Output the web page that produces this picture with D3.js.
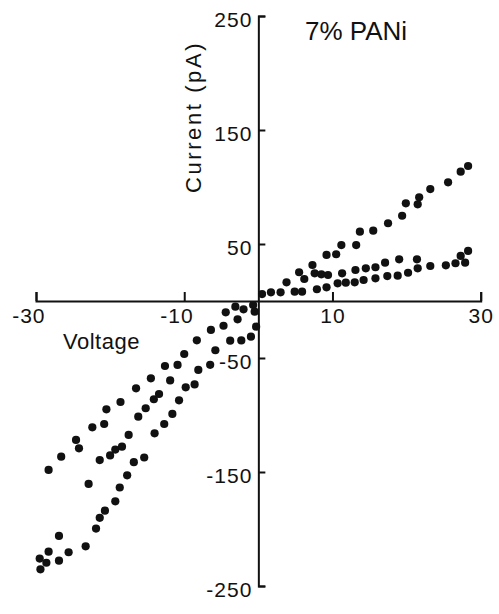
<!DOCTYPE html>
<html>
<head>
<meta charset="utf-8">
<script src="https://cdn.jsdelivr.net/npm/d3@7"></script>
<style>
  body { margin: 0; background: #fff; }
  svg { display: block; }
</style>
</head>
<body>
<div id="chart"></div>
<script>
// voltage (V), current (pA), one array per branch
var posUpper = [[9.2,40.4],[10.5,41.0],[11.2,49.1],[13.2,49.1],[13.7,60.8],[15.5,61.7],[17.5,68.2],
  [19.4,74.8],[19.9,85.7],[21.5,84.8],[21.7,91.0],[23.2,98.2],[25.6,104.1],[27.3,113.4],[28.3,118.4]];
var posLowerOut = [[0.5,6.1],[1.7,7.6],[3.0,7.6],[4.9,8.2],[5.9,8.2],[7.9,10.3],[9.2,12.0],[10.7,15.5],
  [11.8,16.1],[13.0,16.4],[14.2,18.4],[15.8,19.9],[17.4,21.9],[18.8,22.2],[20.2,24.8],[21.5,28.7],
  [23.2,30.7],[25.3,31.3],[26.6,33.1],[27.9,33.6],[27.3,39.5],[28.3,43.9]];
var posLowerBack = [[3.8,16.4],[5.5,25.2],[6.2,19.3],[7.3,31.6],[7.6,24.3],[8.5,23.4],[9.4,22.8],
  [11.3,24.3],[13.1,27.2],[14.5,28.7],[15.8,29.6],[17.1,33.6],[19.0,36.6],[21.4,36.6]];
var negUpper = [[-28.3,-148.2],[-26.6,-136.6],[-24.6,-121.9],[-24.2,-129.2],[-22.4,-110.8],[-20.8,-107.9],
  [-20.5,-95.0],[-18.6,-88.6],[-16.5,-76.6],[-14.5,-67.8],[-12.6,-57.0],[-10.9,-56.1],[-10.0,-46.5],
  [-8.3,-34.5],[-6.4,-25.4],[-4.4,-9.9],[-3.1,-5.0],[-2.0,-7.3],[-0.7,-3.5],[-0.5,-9.4],[-2.8,-16.1],[-4.7,-21.7]];
var negMiddle = [[-22.9,-160.5],[-21.4,-139.5],[-20.0,-135.5],[-19.3,-130.3],[-18.4,-127.8],[-17.5,-117.5],
  [-16.2,-101.5],[-15.2,-94.1],[-14.1,-86.2],[-13.4,-81.6],[-11.9,-69.7],[-8.1,-60.5],[-6.5,-56.0],
  [-5.8,-43.2],[-3.8,-34.8],[-2.3,-34.6],[-1.0,-31.3],[-0.3,-22.5]];
var negLower = [[-29.4,-235.4],[-29.5,-225.9],[-28.6,-229.6],[-28.3,-219.9],[-26.9,-227.8],[-26.9,-206.1],
  [-25.6,-220.4],[-23.3,-215.2],[-21.9,-199.6],[-21.4,-190.2],[-20.7,-183.9],[-19.3,-175.7],[-18.7,-163.6],
  [-17.7,-152.9],[-16.8,-141.4],[-15.4,-137.3],[-14.0,-116.1],[-12.7,-107.9],[-11.6,-99.1],[-10.7,-87.1],
  [-9.8,-75.7],[-8.6,-73.2]];

var xTicks = [-30, -10, 10, 30];
var yTicks = [250, 150, 50, -50, -150, -250];
var title = "7% PANi";

var ink = "#111";
var font = "'Liberation Sans', Arial, sans-serif";

var svg = d3.select("#chart").append("svg")
  .attr("width", 499).attr("height", 614);

var x = d3.scaleLinear().domain([-30, 30]).range([36, 480.7]);
var y = d3.scaleLinear().domain([-250, 250]).range([586, 16]);

// x axis, ticks pointing up, labels below
var gx = svg.append("g")
  .attr("transform", `translate(0,${y(0)})`)
  .call(d3.axisBottom(x).tickValues(xTicks).tickSize(-9).tickSizeOuter(-9).tickPadding(7)
    .tickFormat(d3.format("d")));

gx.selectAll("text")
  .attr("text-anchor", (d) => (d < 0 ? "end" : "middle"))
  .attr("x", (d) => (d < 0 ? 9 : 0))
  .text((d) => (d < 0 ? "-" + Math.abs(d) : d));

// y axis, ticks pointing right, labels left
var gy = svg.append("g")
  .attr("transform", `translate(${x(0)},0)`)
  .call(d3.axisLeft(y).tickValues(yTicks).tickSize(-7).tickSizeOuter(-7).tickPadding(6)
    .tickFormat(d3.format("d")));

gy.selectAll("text")
  .attr("dy", "0.5em")
  .text((d) => (d < 0 ? "-" + Math.abs(d) : d));

svg.selectAll(".domain, .tick line").attr("stroke", ink).attr("stroke-width", 2);
svg.selectAll(".tick text")
  .attr("fill", ink)
  .style("font-family", font)
  .style("font-size", "21px")
  .style("letter-spacing", "1px");

// points
var all = [].concat(posUpper, posLowerOut, posLowerBack, negUpper, negMiddle, negLower);
svg.append("g")
  .selectAll("circle")
  .data(all)
  .enter()
  .append("circle")
  .attr("cx", (d) => x(d[0]))
  .attr("cy", (d) => y(d[1]))
  .attr("r", 4.1)
  .attr("fill", ink);

// labels
svg.append("text")
  .attr("x", 305).attr("y", 39.5)
  .attr("fill", ink)
  .style("font-family", font).style("font-size", "26px")
  .text(title);

svg.append("text")
  .attr("x", 63).attr("y", 349)
  .attr("fill", ink)
  .style("font-family", font).style("font-size", "22px")
  .style("letter-spacing", "0.5px")
  .text("Voltage");

svg.append("text")
  .attr("transform", "translate(201,117) rotate(-90)")
  .attr("text-anchor", "middle")
  .attr("fill", ink)
  .style("font-family", font).style("font-size", "22px")
  .style("letter-spacing", "2.6px")
  .text("Current (pA)");
</script>
</body>
</html>
